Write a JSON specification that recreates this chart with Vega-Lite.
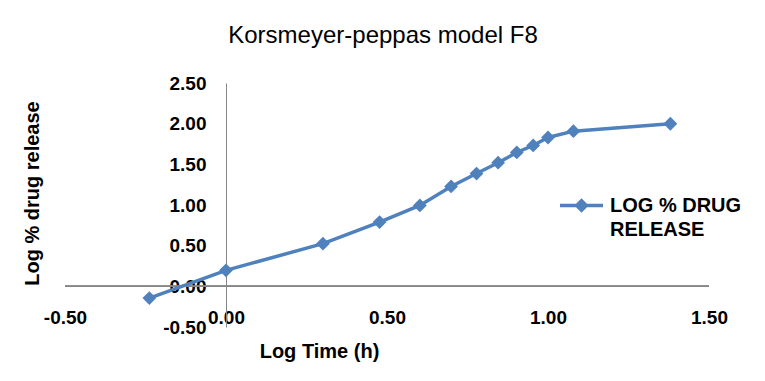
{
  "$schema": "https://vega.github.io/schema/vega-lite/v6.json",
  "width": 644,
  "height": 244,
  "autosize": {"type": "none"},
  "padding": {"left": 65, "top": 83, "right": 56, "bottom": 54},
  "background": "white",
  "title": {"text": "Korsmeyer-peppas model F8", "font": "Liberation Sans", "fontSize": 24, "fontWeight": "normal", "color": "#000000", "anchor": "middle", "offset": 26, "dx": -4},
  "config": {
    "view": {"stroke": null},
    "axis": {"labelFont": "Liberation Sans", "titleFont": "Liberation Sans", "labelColor": "#000000", "titleColor": "#000000", "labelFontWeight": "bold", "titleFontWeight": "bold", "labelFontSize": 19, "titleFontSize": 20, "grid": false, "ticks": false}
  },
  "data": {"values": [
    {"log_time": -0.238, "log_release": -0.144, "series": "LOG % DRUG RELEASE"},
    {"log_time": 0.0, "log_release": 0.197, "series": "LOG % DRUG RELEASE"},
    {"log_time": 0.301, "log_release": 0.525, "series": "LOG % DRUG RELEASE"},
    {"log_time": 0.477, "log_release": 0.79, "series": "LOG % DRUG RELEASE"},
    {"log_time": 0.602, "log_release": 0.995, "series": "LOG % DRUG RELEASE"},
    {"log_time": 0.699, "log_release": 1.228, "series": "LOG % DRUG RELEASE"},
    {"log_time": 0.778, "log_release": 1.387, "series": "LOG % DRUG RELEASE"},
    {"log_time": 0.845, "log_release": 1.52, "series": "LOG % DRUG RELEASE"},
    {"log_time": 0.903, "log_release": 1.646, "series": "LOG % DRUG RELEASE"},
    {"log_time": 0.954, "log_release": 1.732, "series": "LOG % DRUG RELEASE"},
    {"log_time": 1.0, "log_release": 1.83, "series": "LOG % DRUG RELEASE"},
    {"log_time": 1.079, "log_release": 1.908, "series": "LOG % DRUG RELEASE"},
    {"log_time": 1.38, "log_release": 1.999, "series": "LOG % DRUG RELEASE"}
  ]},
  "layer": [
    {
      "mark": {"type": "rule", "color": "#868686", "strokeWidth": 1},
      "encoding": {"y": {"datum": 0, "type": "quantitative"}}
    },
    {
      "mark": {"type": "line", "strokeWidth": 3.5, "point": {"shape": "diamond", "size": 190, "filled": true, "opacity": 1}},
      "encoding": {
        "x": {"field": "log_time", "type": "quantitative", "scale": {"domain": [-0.5, 1.5], "nice": false},
          "axis": {"values": [-0.5, 0, 0.5, 1, 1.5], "labelExpr": "replace(format(datum.value, '.2f'), '−', '-')", "domain": false, "offset": -19, "labelPadding": 0, "labelBaseline": "top", "labelFlush": false, "labelOverlap": false, "title": "Log Time (h)", "titleX": 254, "titleY": 43, "titleBaseline": "middle", "titleAlign": "center"}},
        "y": {"field": "log_release", "type": "quantitative", "scale": {"domain": [-0.5, 2.5], "nice": false},
          "axis": {"values": [-0.5, 0, 0.5, 1, 1.5, 2, 2.5], "labelExpr": "replace(format(datum.value, '.2f'), '−', '-')", "offset": -161, "domainColor": "#868686", "labelPadding": 20, "labelFlush": false, "labelOverlap": false, "title": "Log % drug release", "titleX": -194, "titleY": 110, "titleAngle": 270, "titleAlign": "center", "titleBaseline": "middle"}},
        "color": {"field": "series", "type": "nominal", "scale": {"range": ["#4F81BD"]},
          "legend": {"orient": "none", "legendX": 493, "legendY": 99, "title": null, "padding": 0, "labelExpr": "['LOG % DRUG', 'RELEASE']", "labelFont": "Liberation Sans", "labelFontSize": 20, "labelFontWeight": "bold", "labelColor": "#000000", "labelLimit": 300, "labelOffset": 5, "symbolType": "M-1,0H1M0,-0.22L0.22,0L0,0.22L-0.22,0Z", "symbolSize": 1849, "symbolStrokeWidth": 3.5, "symbolFillColor": "#4F81BD", "symbolStrokeColor": "#4F81BD", "symbolOpacity": 1,
            "encode": {"labels": {"update": {"lineHeight": {"value": 24}}}}}}
      }
    }
  ]
}
